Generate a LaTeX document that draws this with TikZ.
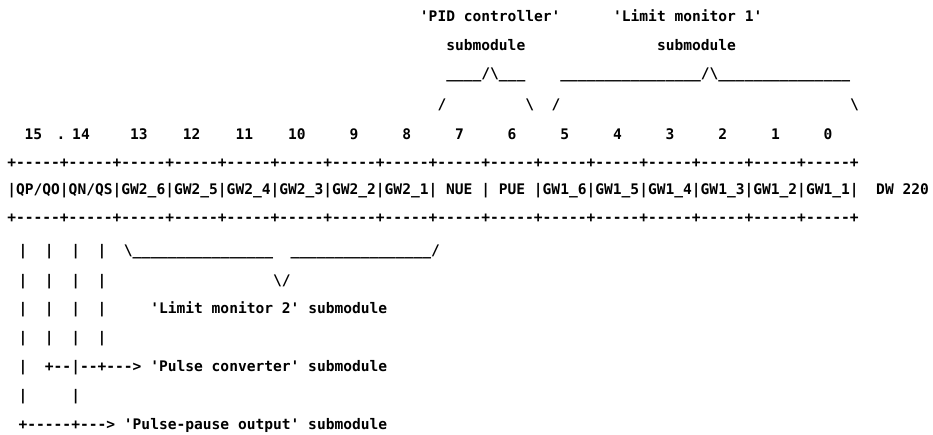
\documentclass[tikz,border=0pt]{standalone}
\usepackage{fontspec}
\setmonofont{DejaVu Sans Mono}
\newcommand\uuuu{\_\_\_\_}
\newcommand\cellrule{+-----}
\newcommand\bs{\textbackslash}
\begin{document}
\begin{tikzpicture}[x=1pt,y=-1pt,
  txt/.style={anchor=base west,inner sep=0pt,outer sep=0pt,text=black,
    font=\ttfamily\bfseries\fontsize{14.58pt}{16pt}\selectfont},
  num/.style={anchor=base,inner sep=0pt,outer sep=0pt,text=black,
    font=\ttfamily\bfseries\fontsize{14.58pt}{16pt}\selectfont}]
\def\p{8.78}
\def\XU{7.3}
\def\XL{18.6}
\useasboundingbox[fill=white] (0,0) rectangle (933,435);
% ---- top labels (upper grid)
\node[txt] (pid)  at ({\XU+\p*47},22) {'PID~controller'};
\node[txt] (lim1) at ({\XU+\p*69},22) {'Limit~monitor~1'};
\node[txt] (sub1) at ({\XU+\p*50},50.5) {submodule};
\node[txt] (sub2) at ({\XU+\p*74},50.5) {submodule};
\node[txt] (br1)  at ({\XU+\p*50},79) {\uuuu/\bs\_\_\_};
\node[txt] (br2)  at ({\XU+\p*63},79) {\uuuu\uuuu\uuuu\uuuu/\bs\uuuu\uuuu\uuuu\_\_\_};
\node[txt] (s1)   at ({\XU+\p*49},110) {/};
\node[txt] (s2)   at ({\XU+\p*59},110) {\bs};
\node[txt] (s3)   at ({\XU+\p*62},110) {/};
\node[txt] (s4)   at ({\XU+\p*96},110) {\bs};
% ---- bit numbers
\node[num] (b15) at (33.5,140) {15};
\node[num] (dot) at (61,140) {.};
\node[num] (b14) at (81,140) {14};
\node[txt] (bits) at ({\XU+\p*14},140) {13~~~~12~~~~11~~~~10~~~~~9~~~~~8~~~~~7~~~~~6~~~~~5~~~~~4~~~~~3~~~~~2~~~~~1~~~~~0};
% ---- the word table
\node[txt] (rtop) at (\XU,167.5) {\cellrule\cellrule\cellrule\cellrule\cellrule\cellrule\cellrule\cellrule\cellrule\cellrule\cellrule\cellrule\cellrule\cellrule\cellrule\cellrule+};
\node[txt] (cells) at (\XU,195) {|QP/QO|QN/QS|GW2\_6|GW2\_5|GW2\_4|GW2\_3|GW2\_2|GW2\_1|~NUE~|~PUE~|GW1\_6|GW1\_5|GW1\_4|GW1\_3|GW1\_2|GW1\_1|~~DW~220};
\node[txt] (rbot) at (\XU,222.5) {\cellrule\cellrule\cellrule\cellrule\cellrule\cellrule\cellrule\cellrule\cellrule\cellrule\cellrule\cellrule\cellrule\cellrule\cellrule\cellrule+};
% ---- lower part (lower grid)
\node[txt] (l9)  at (\XL,256) {|~~|~~|~~|~~\bs\uuuu\uuuu\uuuu\uuuu~~\uuuu\uuuu\uuuu\uuuu/};
\node[txt] (l10) at (\XL,285) {|~~|~~|~~|~~~~~~~~~~~~~~~~~~~\bs/};
\node[txt] (l11) at (\XL,313) {|~~|~~|~~|~~~~~'Limit~monitor~2'~submodule};
\node[txt] (l12) at (\XL,342) {|~~|~~|~~|};
\node[txt] (l13) at (\XL,371.5) {|~~+--|--+--->~'Pulse~converter'~submodule};
\node[txt] (l14) at (\XL,400) {|~~~~~|};
\node[txt] (l15) at (\XL,429.5) {+-----+--->~'Pulse-pause~output'~submodule};
\end{tikzpicture}
\end{document}
